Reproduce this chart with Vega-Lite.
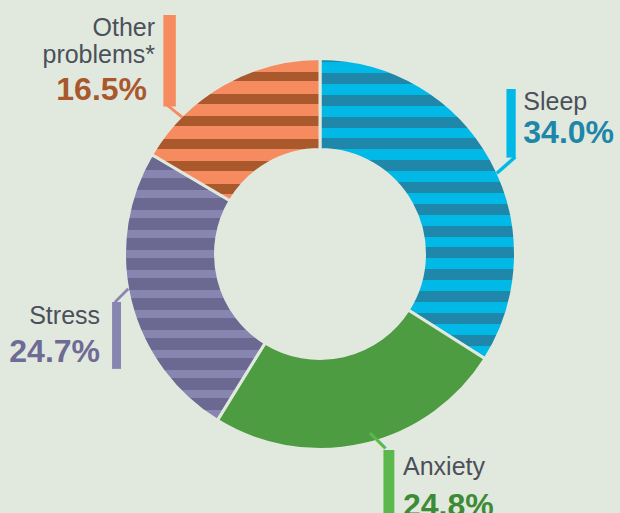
{
  "$schema": "https://vega.github.io/schema/vega-lite/v6.json",
  "width": 600,
  "height": 508,
  "autosize": {"type": "none"},
  "padding": {"left": 20, "top": 0, "right": 0, "bottom": 5},
  "background": "#e1e9de",
  "config": {"view": {"stroke": null}},
  "data": {"values": [
    {"category": "Sleep", "value": 0.340, "rank": 1},
    {"category": "Anxiety", "value": 0.248, "rank": 2},
    {"category": "Stress", "value": 0.247, "rank": 3},
    {"category": "Other problems*", "value": 0.165, "rank": 4}
  ]},
  "encoding": {
    "theta": {"field": "value", "type": "quantitative", "stack": true},
    "order": {"field": "rank", "type": "quantitative"},
    "detail": {"field": "category", "type": "nominal"}
  },
  "layer": [
    {
      "mark": {"type": "arc", "outerRadius": 195.5, "innerRadius": 104.5, "stroke": "#e1e9de", "strokeWidth": 3},
      "encoding": {
        "fill": {
          "condition": [
            {"test": "datum.category === 'Sleep'", "value": {"gradient": "linear", "x1": 0, "y1": 0, "x2": 0, "y2": 1, "stops": [
              {"offset": 0, "color": "#1e87aa"}, {"offset": 0.0123, "color": "#1e87aa"}, {"offset": 0.0123, "color": "#00b9e6"}, {"offset": 0.0483, "color": "#00b9e6"},
              {"offset": 0.0483, "color": "#1e87aa"}, {"offset": 0.0849, "color": "#1e87aa"}, {"offset": 0.0849, "color": "#00b9e6"}, {"offset": 0.1209, "color": "#00b9e6"},
              {"offset": 0.1209, "color": "#1e87aa"}, {"offset": 0.1575, "color": "#1e87aa"}, {"offset": 0.1575, "color": "#00b9e6"}, {"offset": 0.1935, "color": "#00b9e6"},
              {"offset": 0.1935, "color": "#1e87aa"}, {"offset": 0.2301, "color": "#1e87aa"}, {"offset": 0.2301, "color": "#00b9e6"}, {"offset": 0.2661, "color": "#00b9e6"},
              {"offset": 0.2661, "color": "#1e87aa"}, {"offset": 0.3027, "color": "#1e87aa"}, {"offset": 0.3027, "color": "#00b9e6"}, {"offset": 0.3387, "color": "#00b9e6"},
              {"offset": 0.3387, "color": "#1e87aa"}, {"offset": 0.3754, "color": "#1e87aa"}, {"offset": 0.3754, "color": "#00b9e6"}, {"offset": 0.4113, "color": "#00b9e6"},
              {"offset": 0.4113, "color": "#1e87aa"}, {"offset": 0.4480, "color": "#1e87aa"}, {"offset": 0.4480, "color": "#00b9e6"}, {"offset": 0.4839, "color": "#00b9e6"},
              {"offset": 0.4839, "color": "#1e87aa"}, {"offset": 0.5206, "color": "#1e87aa"}, {"offset": 0.5206, "color": "#00b9e6"}, {"offset": 0.5565, "color": "#00b9e6"},
              {"offset": 0.5565, "color": "#1e87aa"}, {"offset": 0.5932, "color": "#1e87aa"}, {"offset": 0.5932, "color": "#00b9e6"}, {"offset": 0.6291, "color": "#00b9e6"},
              {"offset": 0.6291, "color": "#1e87aa"}, {"offset": 0.6658, "color": "#1e87aa"}, {"offset": 0.6658, "color": "#00b9e6"}, {"offset": 0.7018, "color": "#00b9e6"},
              {"offset": 0.7018, "color": "#1e87aa"}, {"offset": 0.7384, "color": "#1e87aa"}, {"offset": 0.7384, "color": "#00b9e6"}, {"offset": 0.7744, "color": "#00b9e6"},
              {"offset": 0.7744, "color": "#1e87aa"}, {"offset": 0.8110, "color": "#1e87aa"}, {"offset": 0.8110, "color": "#00b9e6"}, {"offset": 0.8470, "color": "#00b9e6"},
              {"offset": 0.8470, "color": "#1e87aa"}, {"offset": 0.8836, "color": "#1e87aa"}, {"offset": 0.8836, "color": "#00b9e6"}, {"offset": 0.9196, "color": "#00b9e6"},
              {"offset": 0.9196, "color": "#1e87aa"}, {"offset": 0.9562, "color": "#1e87aa"}, {"offset": 0.9562, "color": "#00b9e6"}, {"offset": 0.9922, "color": "#00b9e6"},
              {"offset": 0.9922, "color": "#1e87aa"}, {"offset": 1, "color": "#1e87aa"}
            ]}},
            {"test": "datum.category === 'Stress'", "value": {"gradient": "linear", "x1": 0, "y1": 0, "x2": 0, "y2": 1, "stops": [
              {"offset": 0, "color": "#8885b0"}, {"offset": 0.0132, "color": "#8885b0"}, {"offset": 0.0132, "color": "#6b6891"}, {"offset": 0.0583, "color": "#6b6891"},
              {"offset": 0.0583, "color": "#8885b0"}, {"offset": 0.0884, "color": "#8885b0"}, {"offset": 0.0884, "color": "#6b6891"}, {"offset": 0.1335, "color": "#6b6891"},
              {"offset": 0.1335, "color": "#8885b0"}, {"offset": 0.1636, "color": "#8885b0"}, {"offset": 0.1636, "color": "#6b6891"}, {"offset": 0.2087, "color": "#6b6891"},
              {"offset": 0.2087, "color": "#8885b0"}, {"offset": 0.2388, "color": "#8885b0"}, {"offset": 0.2388, "color": "#6b6891"}, {"offset": 0.2839, "color": "#6b6891"},
              {"offset": 0.2839, "color": "#8885b0"}, {"offset": 0.3140, "color": "#8885b0"}, {"offset": 0.3140, "color": "#6b6891"}, {"offset": 0.3592, "color": "#6b6891"},
              {"offset": 0.3592, "color": "#8885b0"}, {"offset": 0.3892, "color": "#8885b0"}, {"offset": 0.3892, "color": "#6b6891"}, {"offset": 0.4344, "color": "#6b6891"},
              {"offset": 0.4344, "color": "#8885b0"}, {"offset": 0.4645, "color": "#8885b0"}, {"offset": 0.4645, "color": "#6b6891"}, {"offset": 0.5096, "color": "#6b6891"},
              {"offset": 0.5096, "color": "#8885b0"}, {"offset": 0.5397, "color": "#8885b0"}, {"offset": 0.5397, "color": "#6b6891"}, {"offset": 0.5848, "color": "#6b6891"},
              {"offset": 0.5848, "color": "#8885b0"}, {"offset": 0.6149, "color": "#8885b0"}, {"offset": 0.6149, "color": "#6b6891"}, {"offset": 0.6600, "color": "#6b6891"},
              {"offset": 0.6600, "color": "#8885b0"}, {"offset": 0.6901, "color": "#8885b0"}, {"offset": 0.6901, "color": "#6b6891"}, {"offset": 0.7352, "color": "#6b6891"},
              {"offset": 0.7352, "color": "#8885b0"}, {"offset": 0.7653, "color": "#8885b0"}, {"offset": 0.7653, "color": "#6b6891"}, {"offset": 0.8105, "color": "#6b6891"},
              {"offset": 0.8105, "color": "#8885b0"}, {"offset": 0.8405, "color": "#8885b0"}, {"offset": 0.8405, "color": "#6b6891"}, {"offset": 0.8857, "color": "#6b6891"},
              {"offset": 0.8857, "color": "#8885b0"}, {"offset": 0.9158, "color": "#8885b0"}, {"offset": 0.9158, "color": "#6b6891"}, {"offset": 0.9609, "color": "#6b6891"},
              {"offset": 0.9609, "color": "#8885b0"}, {"offset": 0.9910, "color": "#8885b0"}, {"offset": 0.9910, "color": "#6b6891"}, {"offset": 1, "color": "#6b6891"}
            ]}},
            {"test": "datum.category === 'Other problems*'", "value": {"gradient": "linear", "x1": 0, "y1": 0, "x2": 0, "y2": 1, "stops": [
              {"offset": 0, "color": "#f58b5e"}, {"offset": 0.0914, "color": "#f58b5e"}, {"offset": 0.0914, "color": "#a9592c"}, {"offset": 0.1616, "color": "#a9592c"},
              {"offset": 0.1616, "color": "#f58b5e"}, {"offset": 0.2488, "color": "#f58b5e"}, {"offset": 0.2488, "color": "#a9592c"}, {"offset": 0.3190, "color": "#a9592c"},
              {"offset": 0.3190, "color": "#f58b5e"}, {"offset": 0.4062, "color": "#f58b5e"}, {"offset": 0.4062, "color": "#a9592c"}, {"offset": 0.4765, "color": "#a9592c"},
              {"offset": 0.4765, "color": "#f58b5e"}, {"offset": 0.5636, "color": "#f58b5e"}, {"offset": 0.5636, "color": "#a9592c"}, {"offset": 0.6339, "color": "#a9592c"},
              {"offset": 0.6339, "color": "#f58b5e"}, {"offset": 0.7210, "color": "#f58b5e"}, {"offset": 0.7210, "color": "#a9592c"}, {"offset": 0.7913, "color": "#a9592c"},
              {"offset": 0.7913, "color": "#f58b5e"}, {"offset": 0.8784, "color": "#f58b5e"}, {"offset": 0.8784, "color": "#a9592c"}, {"offset": 0.9487, "color": "#a9592c"},
              {"offset": 0.9487, "color": "#f58b5e"}, {"offset": 1, "color": "#f58b5e"}
            ]}}
          ],
          "value": "#4d9c42"
        }
      }
    },
    {"mark": {"type": "text", "radius": 232, "align": "left", "baseline": "alphabetic", "dx": 0, "dy": -32, "font": "Liberation Sans", "fontSize": 25, "color": "#4b505a"},
     "encoding": {"text": {"condition": {"test": "datum.category === 'Sleep'", "field": "category", "type": "nominal"}, "value": ""}}},
    {"mark": {"type": "text", "radius": 232, "align": "left", "baseline": "alphabetic", "dx": 0, "dy": 1, "font": "Liberation Sans", "fontSize": 32, "fontWeight": "bold", "color": "#1e86a8"},
     "encoding": {"text": {"condition": {"test": "datum.category === 'Sleep'", "field": "value", "type": "quantitative", "format": ".1%"}, "value": ""}}},
    {"mark": {"type": "text", "radius": 232, "align": "center", "baseline": "alphabetic", "dx": -12.3, "dy": 0, "font": "Liberation Sans", "fontSize": 72, "fontWeight": "bold", "color": "#00b9e6"},
     "encoding": {"text": {"condition": {"test": "datum.category === 'Sleep'", "value": "|"}, "value": ""}}},
    {"mark": {"type": "text", "radius": 232, "align": "center", "baseline": "alphabetic", "angle": 48.4, "dx": 5.5, "dy": 34.7, "font": "Liberation Sans", "fontSize": 26, "fontWeight": "bold", "color": "#00b9e6"},
     "encoding": {"text": {"condition": {"test": "datum.category === 'Sleep'", "value": "|"}, "value": ""}}},

    {"mark": {"type": "text", "radius": 227, "align": "left", "baseline": "alphabetic", "dx": 32.1, "dy": -0.2, "font": "Liberation Sans", "fontSize": 25, "color": "#4b505a"},
     "encoding": {"text": {"condition": {"test": "datum.category === 'Anxiety'", "field": "category", "type": "nominal"}, "value": ""}}},
    {"mark": {"type": "text", "radius": 227, "align": "left", "baseline": "alphabetic", "dx": 32.1, "dy": 40.8, "font": "Liberation Sans", "fontSize": 32, "fontWeight": "bold", "color": "#3d8b37"},
     "encoding": {"text": {"condition": {"test": "datum.category === 'Anxiety'", "field": "value", "type": "quantitative", "format": ".1%"}, "value": ""}}},
    {"mark": {"type": "text", "radius": 227, "align": "center", "baseline": "alphabetic", "dx": 18.1, "dy": 37, "font": "Liberation Sans", "fontSize": 85, "fontWeight": "bold", "color": "#5bb94b"},
     "encoding": {"text": {"condition": {"test": "datum.category === 'Anxiety'", "value": "|"}, "value": ""}}},
    {"mark": {"type": "text", "radius": 227, "align": "center", "baseline": "alphabetic", "angle": -45, "dx": 29.2, "dy": -14.0, "font": "Liberation Sans", "fontSize": 23, "fontWeight": "bold", "color": "#5bb94b"},
     "encoding": {"text": {"condition": {"test": "datum.category === 'Anxiety'", "value": "|"}, "value": ""}}},

    {"mark": {"type": "text", "radius": 225, "align": "right", "baseline": "alphabetic", "dx": -1.5, "dy": 16.1, "font": "Liberation Sans", "fontSize": 25, "color": "#4b505a"},
     "encoding": {"text": {"condition": {"test": "datum.category === 'Stress'", "field": "category", "type": "nominal"}, "value": ""}}},
    {"mark": {"type": "text", "radius": 225, "align": "right", "baseline": "alphabetic", "dx": -1.5, "dy": 54.1, "font": "Liberation Sans", "fontSize": 32, "fontWeight": "bold", "color": "#6e6b95"},
     "encoding": {"text": {"condition": {"test": "datum.category === 'Stress'", "field": "value", "type": "quantitative", "format": ".1%"}, "value": ""}}},
    {"mark": {"type": "text", "radius": 225, "align": "center", "baseline": "alphabetic", "dx": 15, "dy": 45.4, "font": "Liberation Sans", "fontSize": 70, "fontWeight": "bold", "color": "#8885b0"},
     "encoding": {"text": {"condition": {"test": "datum.category === 'Stress'", "value": "|"}, "value": ""}}},
    {"mark": {"type": "text", "radius": 225, "align": "center", "baseline": "alphabetic", "angle": 45, "dx": 5.3, "dy": -17.8, "font": "Liberation Sans", "fontSize": 20, "fontWeight": "bold", "color": "#8885b0"},
     "encoding": {"text": {"condition": {"test": "datum.category === 'Stress'", "value": "|"}, "value": ""}}},

    {"mark": {"type": "text", "radius": 250, "align": "right", "baseline": "alphabetic", "dx": -41.1, "dy": -0.8, "lineBreak": " ", "lineHeight": 27, "font": "Liberation Sans", "fontSize": 25, "color": "#4b505a"},
     "encoding": {"text": {"condition": {"test": "datum.category === 'Other problems*'", "field": "category", "type": "nominal"}, "value": ""}}},
    {"mark": {"type": "text", "radius": 250, "align": "right", "baseline": "alphabetic", "dx": -49.1, "dy": 63.2, "font": "Liberation Sans", "fontSize": 32, "fontWeight": "bold", "color": "#a9582d"},
     "encoding": {"text": {"condition": {"test": "datum.category === 'Other problems*'", "field": "value", "type": "quantitative", "format": ".1%"}, "value": ""}}},
    {"mark": {"type": "text", "radius": 250, "align": "center", "baseline": "alphabetic", "dx": -26.6, "dy": 47.8, "font": "Liberation Sans", "fontSize": 97, "fontWeight": "bold", "color": "#f58b5e"},
     "encoding": {"text": {"condition": {"test": "datum.category === 'Other problems*'", "value": "|"}, "value": ""}}},
    {"mark": {"type": "text", "radius": 250, "align": "center", "baseline": "alphabetic", "angle": -51.3, "dx": -71.4, "dy": 34.8, "font": "Liberation Sans", "fontSize": 21, "fontWeight": "bold", "color": "#f58b5e"},
     "encoding": {"text": {"condition": {"test": "datum.category === 'Other problems*'", "value": "|"}, "value": ""}}}
  ]
}
